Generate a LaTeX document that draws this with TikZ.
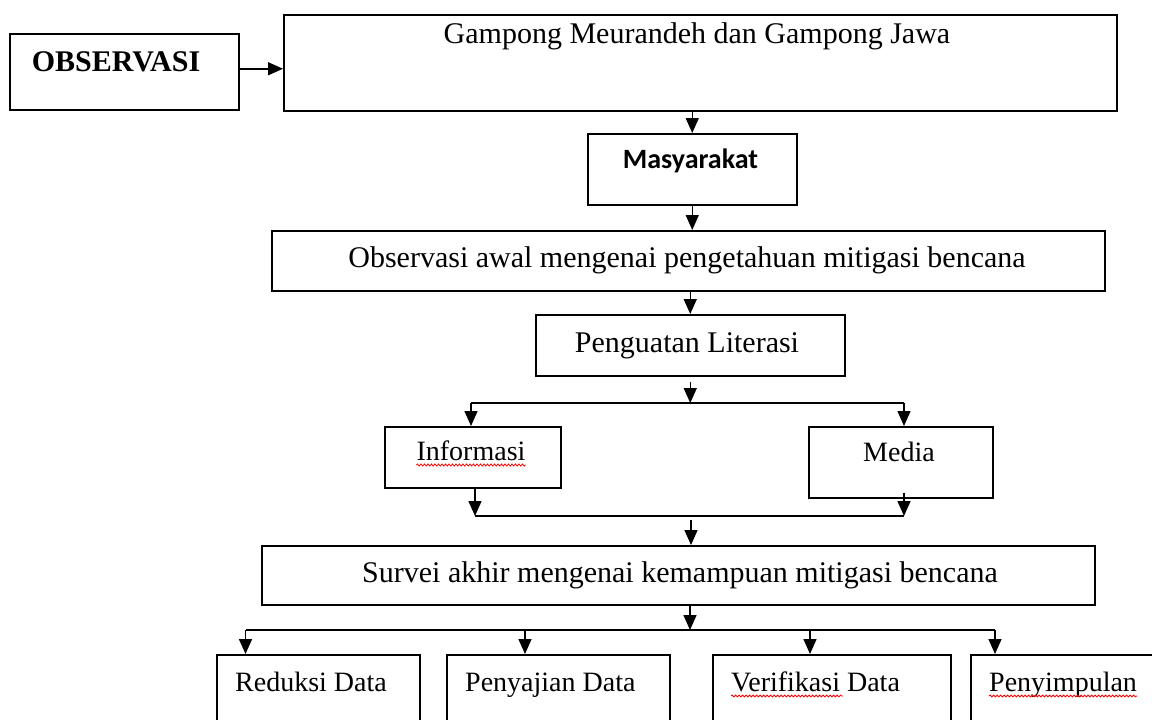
\documentclass[tikz,border=0pt]{standalone}
\usepackage{fontspec}
\setmainfont{Liberation Serif}
\newfontfamily\calib{Carlito}
\usetikzlibrary{arrows.meta,decorations.pathmorphing}
\begin{document}
\begin{tikzpicture}[x=1pt,y=-1pt,
  box/.style={draw, line width=1.5pt, inner sep=0pt, anchor=north west},
  arr/.style={line width=1.5pt, -{Triangle[length=15pt,width=13pt]}},
  ln/.style={line width=1.5pt},
  txt/.style={inner sep=0pt, anchor=base},
  big/.style={txt, font=\fontsize{30}{36}\selectfont},
  small/.style={txt, font=\fontsize{28}{34}\selectfont},
  squig/.style={draw=red, line width=0.8pt, decorate, decoration={snake, amplitude=1pt, segment length=3.5pt}}
]
\useasboundingbox (0,0) rectangle (1152,720);
\clip (0,0) rectangle (1152,720);
\fill[white] (0,0) rectangle (1152,720);

% boxes
\node[box, minimum width=229pt, minimum height=76pt] (obs) at (9,33) {};
\node[box, minimum width=833pt, minimum height=96pt] (gam) at (283,14) {};
\node[box, minimum width=209pt, minimum height=71pt] (mas) at (587,133) {};
\node[box, minimum width=833pt, minimum height=60pt] (awal) at (271,230) {};
\node[box, minimum width=309pt, minimum height=61pt] (peng) at (535,314) {};
\node[box, minimum width=176pt, minimum height=61pt] (info) at (384,426) {};
\node[box, minimum width=184pt, minimum height=71pt] (med) at (808,426) {};
\node[box, minimum width=833pt, minimum height=59pt] (surv) at (261,545) {};
\node[box, minimum width=203pt, minimum height=100pt] (red) at (216,654) {};
\node[box, minimum width=223pt, minimum height=100pt] (saji) at (446,654) {};
\node[box, minimum width=238pt, minimum height=100pt] (ver) at (712,654) {};
\node[box, minimum width=250pt, minimum height=100pt] (simp) at (970,654) {};

% texts
\node[txt, font=\fontsize{30}{36}\selectfont\bfseries] (tobs) at (116,71) {OBSERVASI};
\node[big] (tgam) at (697,43) {Gampong Meurandeh dan Gampong Jawa};
\node[txt, font=\calib\fontsize{28}{34}\selectfont\bfseries] (tmas) at (690.5,168) {Masyarakat};
\node[big] (tawal) at (687,267) {Observasi awal mengenai pengetahuan mitigasi bencana};
\node[big] (tpeng) at (687,352) {Penguatan Literasi};
\node[small] (tinfo) at (471,460) {Informasi};
\node[small] (tmed) at (899,461) {Media};
\node[big] (tsurv) at (680,582) {Survei akhir mengenai kemampuan mitigasi bencana};
\node[small, anchor=base west] (tred) at (235,691) {Reduksi Data};
\node[small, anchor=base west] (tsaji) at (465,691) {Penyajian Data};
\node[small, anchor=base west] (tver) at (731,691) {Verifikasi Data};
\node[small, anchor=base west] (tsimp) at (989,691) {Penyimpulan};

% spell-check squiggles
\draw[squig] ([yshift=-5pt]tinfo.base west) -- ([yshift=-5pt]tinfo.base east);
\draw[squig] ([yshift=-5pt]tver.base west) -- ([xshift=112pt,yshift=-5pt]tver.base west);
\draw[squig] ([yshift=-5pt]tsimp.base west) -- ([yshift=-5pt]tsimp.base east);

% junction points
\coordinate (s1) at (690,403);
\coordinate (tl) at (471,403);
\coordinate (tr) at (904,403);
\coordinate (bl) at (475,516);
\coordinate (br) at (904,516);
\coordinate (m1) at (691,516);
\coordinate (s2) at (690,630);
\coordinate (b1) at (245.5,630);
\coordinate (b2) at (525,630);
\coordinate (b3) at (810,630);
\coordinate (b4) at (995,630);

% connectors
\draw[arr] ([yshift=3pt]obs.east) -- ([yshift=3pt]obs.east -| gam.west);
\draw[arr] (gam.south -| mas.north) -- (mas.north);
\draw[arr] (mas.south) -- (mas.south |- awal.north);
\draw[arr] (peng.north |- awal.south) -- (peng.north);
\draw[arr, shorten <=5pt] (peng.south) -- (peng.south |- s1);
\draw[ln] (tl) -- (tr);
\draw[arr] (tl) -- (tl |- info.north);
\draw[arr] (tr) -- (tr |- med.north);
\draw[arr] (bl |- info.south) -- (bl);
\draw[arr, shorten <=-6pt] (br |- med.south) -- (br);
\draw[ln] (bl) -- (br);
\draw[arr, shorten <=4pt] (m1) -- (m1 |- surv.north);
\draw[arr] (s2 |- surv.south) -- (s2);
\draw[ln] (b1) -- (b4);
\draw[arr] (b1) -- (b1 |- red.north);
\draw[arr] (b2) -- (b2 |- saji.north);
\draw[arr] (b3) -- (b3 |- ver.north);
\draw[arr] (b4) -- (b4 |- simp.north);
\end{tikzpicture}
\end{document}
